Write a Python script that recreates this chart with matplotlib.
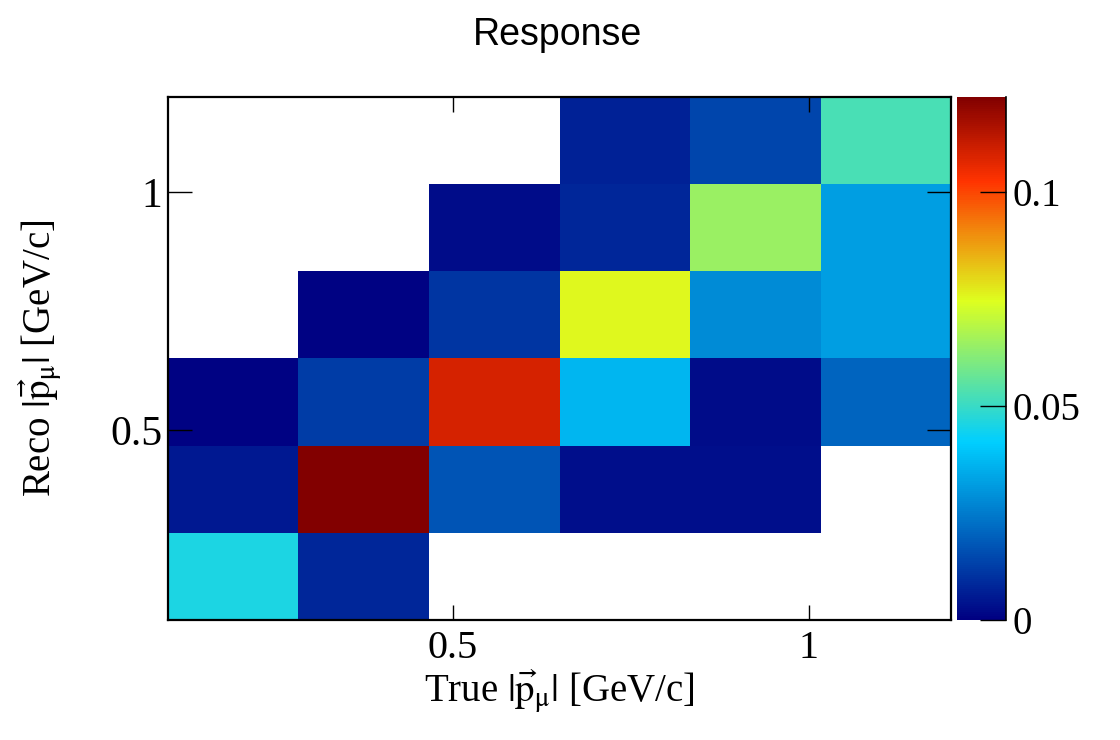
import numpy as np
import matplotlib
matplotlib.use("Agg")
import matplotlib.pyplot as plt
from matplotlib.colors import LinearSegmentedColormap

# ---- data ----
x_edges = [0.1, 0.28333, 0.46667, 0.65, 0.83333, 1.01667, 1.2]   # True |p_mu| bins
y_edges = [0.1, 0.28333, 0.46667, 0.65, 0.83333, 1.01667, 1.2]   # Reco |p_mu| bins
# rows: reco bins (bottom -> top), columns: true bins (left -> right)
row0 = [0.0457, 0.0080, 0.0,    0.0,    0.0,    0.0]
row1 = [0.0050, 0.1222, 0.0170, 0.0030, 0.0030, 0.0]
row2 = [0.0008, 0.0120, 0.1088, 0.0366, 0.0025, 0.0205]
row3 = [0.0,    0.0005, 0.0110, 0.0754, 0.0280, 0.0318]
row4 = [0.0,    0.0,    0.0025, 0.0080, 0.0646, 0.0318]
row5 = [0.0,    0.0,    0.0,    0.0068, 0.0140, 0.0527]
x_ticks = [0.5, 1.0]
x_ticklabels = ["0.5", "1"]
y_ticks = [0.5, 1.0]
y_ticklabels = ["0.5", "1"]
z_ticks = [0.0, 0.05, 0.1]
z_ticklabels = ["0", "0.05", "0.1"]
z_max = 0.1222

# ---- style ----
plt.rcParams['font.family'] = ['Liberation Serif', 'DejaVu Serif']
plt.rcParams['mathtext.fontset'] = 'stix'

stops = [0.0, 0.34, 0.61, 0.84, 1.0]
reds = [0.0, 0.0, 0.87, 1.0, 0.51]
greens = [0.0, 0.81, 1.0, 0.2, 0.0]
blues = [0.51, 1.0, 0.12, 0.0, 0.0]
cmap = LinearSegmentedColormap.from_list(
    "rootpal", [(s, (r, g, b)) for s, r, g, b in zip(stops, reds, greens, blues)], N=255)
cmap.set_bad((1, 1, 1, 0))

Z = np.array([row0, row1, row2, row3, row4, row5])
Zm = np.ma.masked_where(Z <= 0, Z)

fig = plt.figure(figsize=(11.2, 7.4), dpi=100)
ax = fig.add_axes([168/1120, 1-620/740, (951-168)/1120, (620-97)/740])
cax = fig.add_axes([957/1120, 1-620/740, (1006-957)/1120, (620-97)/740])

mesh = ax.pcolormesh(x_edges, y_edges, Zm, cmap=cmap, vmin=0, vmax=z_max)
ax.set_xlim(x_edges[0], x_edges[-1])
ax.set_ylim(y_edges[0], y_edges[-1])

ax.set_xticks(x_ticks)
ax.set_xticklabels(x_ticklabels)
ax.set_yticks(y_ticks)
ax.set_yticklabels(y_ticklabels)
ax.tick_params(axis='x', direction='in', length=10.5, width=1.0, top=True,
               labelsize=29, pad=7)
ax.tick_params(axis='y', direction='in', length=17, width=1.0, right=True,
               labelsize=30, pad=4)
for sp in ax.spines.values():
    sp.set_linewidth(1.6)

plab = r'$|\vec{\mathrm{p}}_{\mathrm{μ}}|$'
ax.set_xlabel('True ' + plab + ' [GeV/c]', fontsize=28)
ax.set_ylabel('Reco ' + plab + ' [GeV/c]', fontsize=28)
ax.xaxis.set_label_coords(0.5, -0.09)
ax.yaxis.set_label_coords(-0.133, 0.5)

cb = fig.colorbar(mesh, cax=cax)
cb.outline.set_visible(False)
cax.plot([1, 1], [0, 1], transform=cax.transAxes, color='black', lw=1.2, clip_on=False)
cb.set_ticks(z_ticks)
cb.set_ticklabels(z_ticklabels)
cax.tick_params(axis='y', direction='in', length=19, width=1.0, labelsize=28, pad=5)

fig.text(558/1120, 1-35/740, 'Response', ha='center', va='center',
         fontsize=27, family=['Liberation Sans', 'DejaVu Sans'])

fig.savefig('out.png', dpi=100)
